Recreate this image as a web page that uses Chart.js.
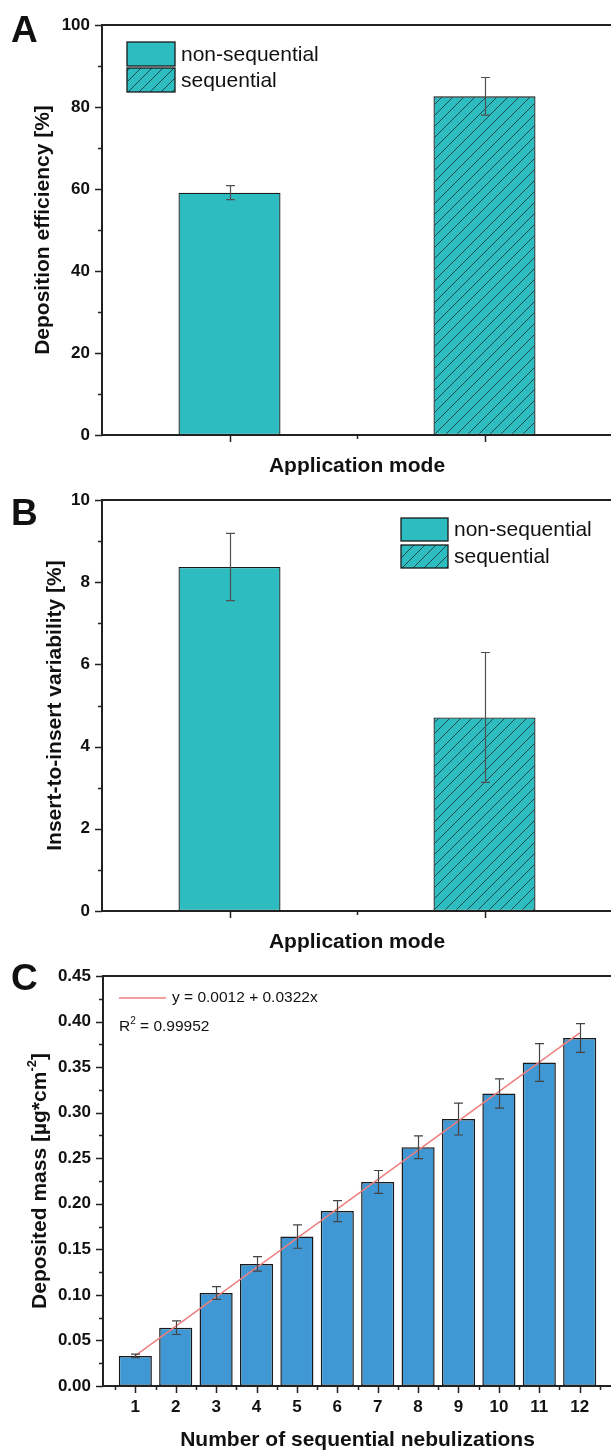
<!DOCTYPE html>
<html>
<head>
<meta charset="utf-8">
<script src="https://cdn.jsdelivr.net/npm/chart.js@4.4.1/dist/chart.umd.min.js"></script>
<style>
  html, body { margin: 0; padding: 0; background: #fff; overflow: hidden; width: 611px; height: 1450px; position: relative; }
  canvas { display: block; position: absolute; left: 0; }
  #panelA { top: 0; }
  #panelB { top: 475px; }
  #panelC { top: 950px; }
</style>
</head>
<body>
<canvas id="panelA" width="614" height="475"></canvas>
<canvas id="panelB" width="614" height="485"></canvas>
<canvas id="panelC" width="614" height="500"></canvas>
<script>
// panel A + B: application mode
const modeX = [1, 2];
const modeNames = ["non-sequential", "sequential"];
const efficiency = [59.1, 82.6];
const efficiencyErr = [1.7, 4.6];
const efficiencyTicks = [0, 20, 40, 60, 80, 100];
const variability = [8.37, 4.71];
const variabilityErr = [0.82, 1.58];
const variabilityTicks = [0, 2, 4, 6, 8, 10];

// panel C: sequential nebulizations
const nebulizations = [1, 2, 3, 4, 5, 6, 7, 8, 9, 10, 11, 12];
const depositedMass = [0.033, 0.064, 0.102, 0.134, 0.164, 0.192, 0.224, 0.262, 0.293, 0.321, 0.355, 0.382];
const depositedErr = [0.002, 0.0075, 0.007, 0.008, 0.0128, 0.0115, 0.0125, 0.0125, 0.0175, 0.016, 0.0207, 0.0158];
const massTicks = [0, 0.05, 0.1, 0.15, 0.2, 0.25, 0.3, 0.35, 0.4, 0.45];
const fitX = [1, 12];
const fitY = [0.0334, 0.3876];

const FONT = '"Liberation Sans", Arial, Helvetica, sans-serif';
const TEAL = "#2dbdc0";
const BLUE = "#3f97d4";
const FIT_RED = "#ef7f7f";
const INK = "#111";

Chart.defaults.font.family = FONT;

function makeHatch(bg, line) {
  const s = 11;
  const c = document.createElement("canvas");
  c.width = s;
  c.height = s;
  const g = c.getContext("2d");
  g.fillStyle = bg;
  g.fillRect(0, 0, s, s);
  g.strokeStyle = line;
  g.lineWidth = 1;
  g.beginPath();
  g.moveTo(-1, s + 1);
  g.lineTo(s + 1, -1);
  g.moveTo(-1, 1);
  g.lineTo(1, -1);
  g.moveTo(s - 1, s + 1);
  g.lineTo(s + 1, s - 1);
  g.stroke();
  return g.createPattern(c, "repeat");
}
const hatch = makeHatch(TEAL, "#1d4a4c");

// text with optional superscript parts
function drawRich(ctx, parts, x, y, rot, size, weight, align) {
  const segs = parts.map((p) => (typeof p === "string" ? { text: p } : { ...p }));
  const fontFor = (s) => `${weight} ${s.sup ? Math.round(size * 0.62) : size}px ${FONT}`;
  let total = 0;
  segs.forEach((s) => {
    ctx.font = fontFor(s);
    s.w = ctx.measureText(s.text).width;
    total += s.w;
  });
  ctx.save();
  ctx.translate(x, y);
  ctx.rotate(rot);
  ctx.textAlign = "left";
  ctx.textBaseline = "middle";
  let cx = align === "left" ? 0 : -total / 2;
  segs.forEach((s) => {
    ctx.font = fontFor(s);
    ctx.fillText(s.text, cx, s.sup ? -size * 0.36 : 0);
    cx += s.w;
  });
  ctx.restore();
}

// box frame + Origin-style outward major/minor ticks
const frame = {
  id: "frame",
  afterDraw(chart) {
    const { ctx, chartArea: a, scales } = chart;
    ctx.save();
    ctx.strokeStyle = "#222";
    ctx.lineWidth = 2;
    ctx.strokeRect(a.left, a.top, a.right - a.left, a.bottom - a.top);
    ctx.lineWidth = 1.5;
    const marks = (s) => {
      const major = s.ticks.map((t) => t.value);
      const minor = [];
      for (let i = 0; i < major.length - 1; i++) minor.push((major[i] + major[i + 1]) / 2);
      if (major.length > 1) {
        const step = major[1] - major[0];
        const lo = major[0] - step / 2;
        const hi = major[major.length - 1] + step / 2;
        if (lo > s.min) minor.push(lo);
        if (hi < s.max) minor.push(hi);
      }
      return [major.map((v) => [v, 7]), minor.map((v) => [v, 4])].flat();
    };
    ctx.beginPath();
    marks(scales.x).forEach(([v, len]) => {
      const px = Math.round(scales.x.getPixelForValue(v)) + 0.5;
      ctx.moveTo(px, a.bottom);
      ctx.lineTo(px, a.bottom + len);
    });
    marks(scales.y).forEach(([v, len]) => {
      const py = Math.round(scales.y.getPixelForValue(v)) + 0.5;
      ctx.moveTo(a.left, py);
      ctx.lineTo(a.left - len, py);
    });
    ctx.stroke();
    ctx.restore();
  },
};

const errorBars = {
  id: "errorBars",
  afterDatasetsDraw(chart, args, o) {
    const { ctx, scales: { y } } = chart;
    ctx.save();
    ctx.strokeStyle = o.color;
    ctx.lineWidth = 1.2;
    chart.data.datasets.forEach((ds, i) => {
      if (!ds.errors) return;
      chart.getDatasetMeta(i).data.forEach((bar, j) => {
        const v = ds.data[j].y;
        const e = ds.errors[j];
        const t = y.getPixelForValue(v + e);
        const b = y.getPixelForValue(v - e);
        const x = Math.round(bar.x) + 0.5;
        ctx.beginPath();
        ctx.moveTo(x, t);
        ctx.lineTo(x, b);
        ctx.moveTo(x - o.cap / 2, t);
        ctx.lineTo(x + o.cap / 2, t);
        ctx.moveTo(x - o.cap / 2, b);
        ctx.lineTo(x + o.cap / 2, b);
        ctx.stroke();
      });
    });
    ctx.restore();
  },
};

const panelText = {
  id: "panelText",
  afterDraw(chart, args, o) {
    const { ctx, chartArea: a } = chart;
    ctx.save();
    ctx.fillStyle = INK;
    ctx.textAlign = "left";
    ctx.textBaseline = "alphabetic";
    ctx.font = `bold 37px ${FONT}`;
    ctx.fillText(o.letter, 11, o.letterY);
    ctx.font = `bold 21px ${FONT}`;
    ctx.textAlign = "center";
    ctx.textBaseline = "middle";
    ctx.fillText(o.xTitle, (a.left + a.right) / 2, o.xTitleY);
    drawRich(ctx, o.yTitle, o.yTitleX, (a.top + a.bottom) / 2, -Math.PI / 2, 21, "bold");
    ctx.restore();
  },
};

const boxLegend = {
  id: "boxLegend",
  afterDraw(chart, args, o) {
    const { ctx } = chart;
    ctx.save();
    chart.data.datasets.forEach((ds, i) => {
      const top = o.top + i * o.rowStep;
      ctx.fillStyle = ds.backgroundColor;
      ctx.fillRect(o.left, top, o.boxW, o.boxH);
      ctx.strokeStyle = "#1a1a1a";
      ctx.lineWidth = 1.3;
      ctx.strokeRect(o.left, top, o.boxW, o.boxH);
      ctx.fillStyle = INK;
      ctx.font = `21px ${FONT}`;
      ctx.textAlign = "left";
      ctx.textBaseline = "middle";
      ctx.fillText(ds.label, o.left + o.boxW + 6, top + o.boxH / 2 + 1);
    });
    ctx.restore();
  },
};

const fitLegend = {
  id: "fitLegend",
  afterDraw(chart, args, o) {
    const { ctx } = chart;
    ctx.save();
    ctx.strokeStyle = FIT_RED;
    ctx.lineWidth = 1.5;
    ctx.beginPath();
    ctx.moveTo(o.left, o.lineY);
    ctx.lineTo(o.left + 47, o.lineY);
    ctx.stroke();
    ctx.fillStyle = INK;
    drawRich(ctx, [o.equation], o.left + 53, o.lineY, 0, 15.5, "normal", "left");
    drawRich(ctx, ["R", { text: "2", sup: true }, o.r2], o.left, o.r2Y, 0, 15.5, "normal", "left");
    ctx.restore();
  },
};

function axisY(ticks, width, fmt) {
  return {
    min: ticks[0],
    max: ticks[ticks.length - 1],
    grid: { display: false, drawTicks: false },
    border: { display: false },
    ticks: { color: INK, font: { size: 17, weight: "bold" }, padding: 12, callback: fmt },
    afterBuildTicks: (s) => { s.ticks = ticks.map((v) => ({ value: v })); },
    afterFit: (s) => { s.width = width; },
  };
}

function modeChart(id, values, errors, ticks, xHeight, text, legend) {
  return new Chart(document.getElementById(id), {
    type: "bar",
    data: {
      datasets: modeNames.map((name, i) => ({
        label: name,
        data: [{ x: modeX[i], y: values[i] }],
        errors: [errors[i]],
        backgroundColor: i === 0 ? TEAL : hatch,
        borderColor: "#1a1a1a",
        borderWidth: 1.3,
        borderSkipped: false,
        grouped: false,
        barPercentage: 0.4,
        categoryPercentage: 1,
      })),
    },
    options: {
      responsive: false,
      animation: false,
      events: [],
      layout: { padding: { top: 25, right: 2, left: 0, bottom: 0 } },
      plugins: {
        legend: { display: false },
        tooltip: { enabled: false },
        errorBars: { color: "#505050", cap: 9 },
        panelText: text,
        boxLegend: legend,
      },
      scales: {
        x: {
          type: "linear",
          min: 0.5,
          max: 2.5,
          offset: false,
          grid: { display: false, drawTicks: false, offset: false },
          border: { display: false },
          ticks: { display: false },
          afterBuildTicks: (s) => { s.ticks = modeX.map((v) => ({ value: v })); },
          afterFit: (s) => { s.height = xHeight; },
        },
        y: axisY(ticks, 102, (v) => String(v)),
      },
    },
    plugins: [frame, errorBars, panelText, boxLegend],
  });
}

modeChart("panelA", efficiency, efficiencyErr, efficiencyTicks, 40,
  { letter: "A", letterY: 42, xTitle: "Application mode", xTitleY: 466, yTitle: ["Deposition efficiency [%]"], yTitleX: 43 },
  { left: 127, top: 42, rowStep: 26, boxW: 48, boxH: 24 });

modeChart("panelB", variability, variabilityErr, variabilityTicks, 49,
  { letter: "B", letterY: 50, xTitle: "Application mode", xTitleY: 467, yTitle: ["Insert-to-insert variability [%]"], yTitleX: 55 },
  { left: 401, top: 43, rowStep: 27, boxW: 47, boxH: 23 });

new Chart(document.getElementById("panelC"), {
  type: "bar",
  data: {
    datasets: [
      {
        type: "line",
        label: "fit",
        data: fitX.map((x, i) => ({ x, y: fitY[i] })),
        borderColor: FIT_RED,
        borderWidth: 1.5,
        pointRadius: 0,
        order: 1,
      },
      {
        label: "Deposited mass",
        data: nebulizations.map((x, i) => ({ x, y: depositedMass[i] })),
        errors: depositedErr,
        backgroundColor: BLUE,
        borderColor: "#1a1a1a",
        borderWidth: 1.5,
        borderSkipped: false,
        barPercentage: 0.82,
        categoryPercentage: 1,
        order: 2,
      },
    ],
  },
  options: {
    responsive: false,
    animation: false,
    events: [],
    layout: { padding: { top: 26, right: 2, left: 0, bottom: 0 } },
    plugins: {
      legend: { display: false },
      tooltip: { enabled: false },
      errorBars: { color: "#444", cap: 9 },
      panelText: {
        letter: "C",
        letterY: 40,
        xTitle: "Number of sequential nebulizations",
        xTitleY: 490,
        yTitle: ["Deposited mass [µg*cm", { text: "-2", sup: true }, "]"],
        yTitleX: 40,
      },
      fitLegend: { left: 119, lineY: 48, r2Y: 77, equation: "y = 0.0012 + 0.0322x", r2: " = 0.99952" },
    },
    scales: {
      x: {
        type: "linear",
        min: 0.2,
        max: 12.8,
        offset: false,
        grid: { display: false, drawTicks: false, offset: false },
        border: { display: false },
        ticks: { color: INK, font: { size: 17, weight: "bold" }, padding: 11, autoSkip: false, maxRotation: 0, callback: (v) => String(v) },
        afterBuildTicks: (s) => { s.ticks = nebulizations.map((v) => ({ value: v })); },
        afterFit: (s) => { s.height = 64; },
      },
      y: axisY(massTicks, 103, (v) => v.toFixed(2)),
    },
  },
  plugins: [frame, errorBars, panelText, fitLegend],
});
</script>
</body>
</html>
